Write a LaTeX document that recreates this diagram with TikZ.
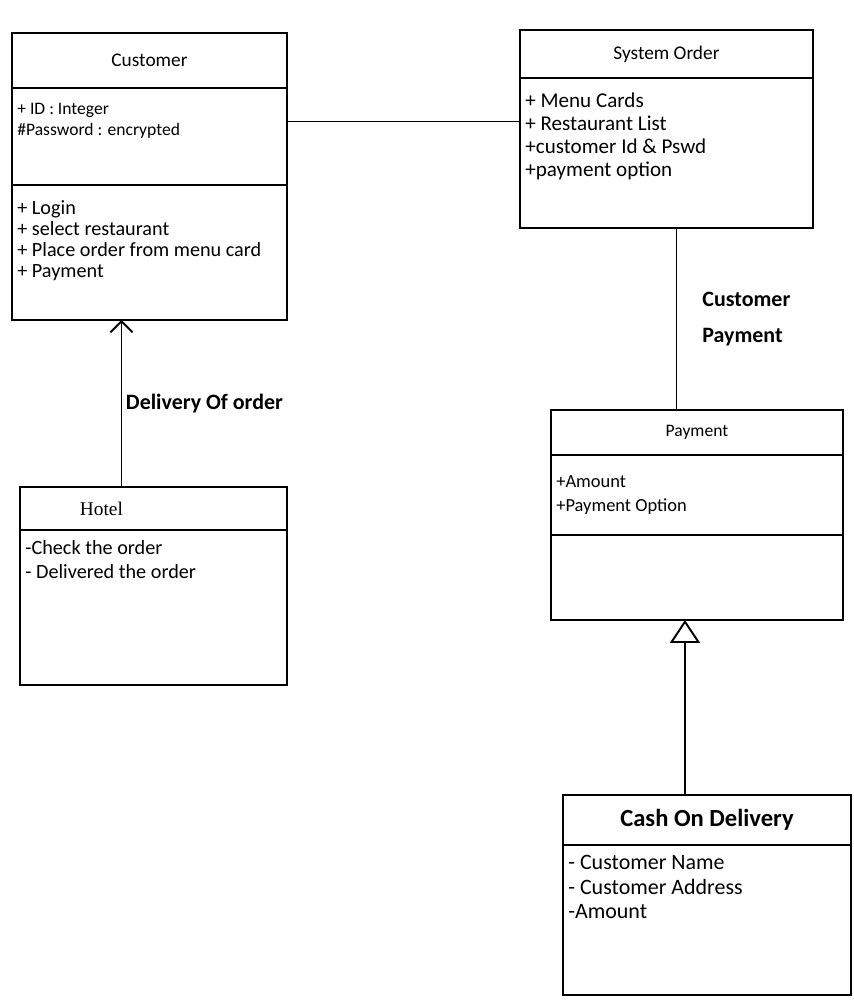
\documentclass[tikz,border=0pt]{standalone}
\usepackage{fontspec}
\setmainfont{Carlito}
\newfontfamily\hotelfont{Liberation Serif}
\usetikzlibrary{positioning,arrows.meta}

\tikzset{
  cbox/.style={draw, line width=1.1pt, inner sep=0pt, outer sep=0pt, minimum width=#1},
  ctext/.style={anchor=north west, inner sep=0pt, align=left},
  assoc/.style={line width=1.1pt},
  lbl/.style={font=\bfseries\fontsize{12.5}{15}\selectfont, align=left, inner sep=0pt},
}

\begin{document}
\begin{tikzpicture}[x=0.02cm, y=-0.02cm]
  \useasboundingbox (0,0) rectangle (853,1004);

  % Customer
  \node[cbox=5.5cm, anchor=north west, minimum height=1.1cm, font=\fontsize{11}{13}\selectfont] (custT) at (12,33) {Customer};
  \node[cbox=5.5cm, minimum height=1.94cm, below=0pt of custT] (custA) {};
  \node[cbox=5.5cm, minimum height=2.7cm, below=0pt of custA] (custO) {};
  \node[ctext] (custAtt) at ([xshift=1mm,yshift=-3mm]custA.north west) {+ ID : Integer\\\#Password : encrypted};
  \node[ctext, font=\fontsize{11.5}{12}\selectfont] (custOps) at ([xshift=1mm,yshift=-3mm]custO.north west) {+ Login\\+ select restaurant\\+ Place order from menu card\\+ Payment};

  % System Order
  \node[cbox=5.86cm, anchor=north west, minimum height=0.96cm, font=\fontsize{11}{13}\selectfont] (sysT) at (520,30) {System Order};
  \node[cbox=5.86cm, minimum height=3cm, below=0pt of sysT] (sysA) {};
  \node[ctext, font=\fontsize{12}{13}\selectfont] (sysAtt) at ([xshift=1mm,yshift=-3mm]sysA.north west) {+ Menu Cards\\+ Restaurant List\\+customer Id \& Pswd\\+payment option};

  % Payment
  \node[cbox=5.84cm, anchor=north west, minimum height=0.9cm] (payT) at (551,410) {Payment};
  \node[cbox=5.84cm, minimum height=1.6cm, below=0pt of payT] (payA) {};
  \node[cbox=5.84cm, minimum height=1.7cm, below=0pt of payA] (payO) {};
  \node[ctext, font=\fontsize{10.5}{14}\selectfont] (payAtt) at ([xshift=1mm,yshift=-4mm]payA.north west) {+Amount\\+Payment Option};

  % Cash On Delivery
  \node[cbox=5.76cm, anchor=north west, minimum height=1cm, font=\bfseries\fontsize{14}{16}\selectfont] (cashT) at (563,795) {Cash On Delivery};
  \node[cbox=5.76cm, minimum height=3cm, below=0pt of cashT] (cashA) {};
  \node[ctext, font=\fontsize{12.5}{14}\selectfont] (cashAtt) at ([xshift=1mm,yshift=-2mm]cashA.north west) {- Customer Name\\- Customer Address\\-Amount};

  % Hotel
  \node[cbox=5.34cm, anchor=north west, minimum height=0.86cm, text width=2.94cm, align=left, font=\hotelfont\fontsize{11}{13}\selectfont] (hotT) at (20,487) {Hotel};
  \node[cbox=5.34cm, minimum height=3.1cm, below=0pt of hotT] (hotA) {};
  \node[ctext, font=\fontsize{11.5}{13.5}\selectfont] (hotAtt) at ([xshift=1mm,yshift=-2mm]hotA.north west) {-Check the order\\- Delivered the order};

  % connectors
  \draw[assoc] ([yshift=3mm]custA.east) -- ([yshift=3mm]custA.east -| sysA.west);
  \draw[assoc] ([xshift=2mm]sysA.south) -- ([xshift=2mm]sysA.south |- payT.north)
    node[midway, right=5mm, lbl, font=\bfseries\fontsize{12.5}{21}\selectfont] (pmtLbl) {Customer\\Payment};
  \draw[assoc, -{Straight Barb[length=2.2mm, width=4.4mm]}] ([xshift=-5.6mm]custO.south |- hotT.north) -- ([xshift=-5.6mm]custO.south)
    node[midway, right=2pt, lbl] (delLbl) {Delivery Of order};
  \draw[assoc, -{Triangle[open, length=4.6mm, width=6mm]}] ([xshift=-2.4mm]payO.south |- cashT.north) -- ([xshift=-2.4mm]payO.south);
\end{tikzpicture}
\end{document}
